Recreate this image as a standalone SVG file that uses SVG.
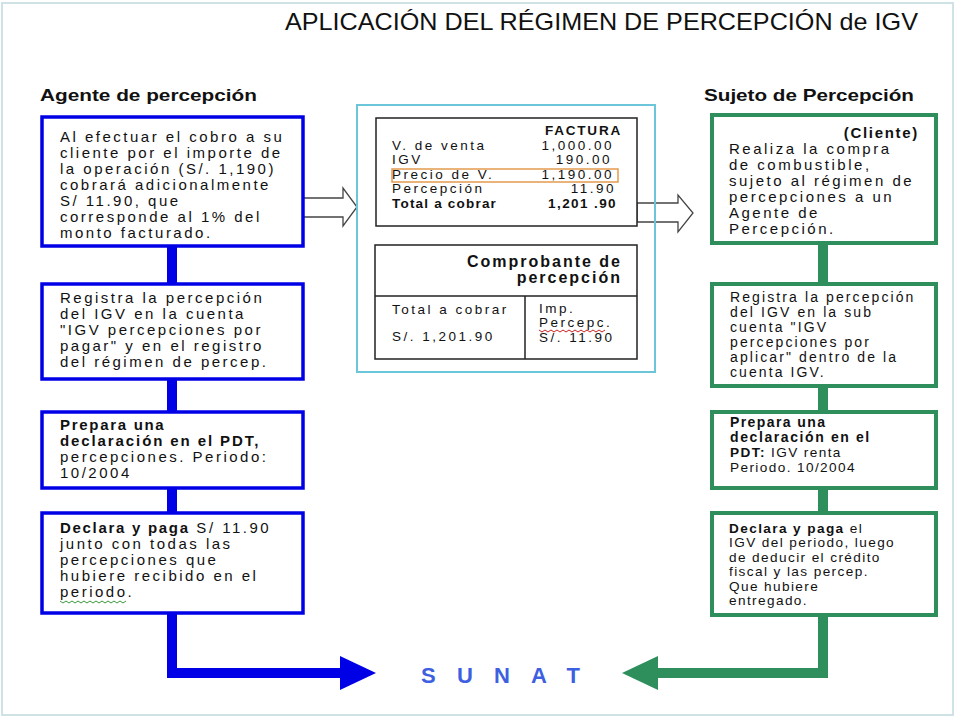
<svg xmlns="http://www.w3.org/2000/svg" width="960" height="720" viewBox="0 0 960 720">
<defs>
<style>
text{font-family:"Liberation Sans",Arial,sans-serif;fill:#111}
.l16{font-size:15px;letter-spacing:2.5px}
.l15{font-size:14px;letter-spacing:2.1px}
.l15n{font-size:13.6px;letter-spacing:1.4px}
.c15{font-size:13.5px;letter-spacing:2.5px}
.b{font-weight:bold}
.hdr{font-size:17px;font-weight:bold}
.bluebox{fill:#fff;stroke:#0000e6;stroke-width:3.5}
.greenbox{fill:#fff;stroke:#2e8f5c;stroke-width:4}
.blk{fill:#fff;stroke:#222;stroke-width:1.5}
.hollow{fill:#fff;stroke:#444;stroke-width:1.3}
.wavy{fill:none;stroke-width:1}
</style>
</defs>
<rect x="0" y="0" width="960" height="720" fill="#fff"/>
<rect x="2" y="3" width="951" height="712" fill="none" stroke="#cfe2e6" stroke-width="2"/>

<text x="285" y="30" font-size="24" textLength="633" lengthAdjust="spacingAndGlyphs">APLICACIÓN DEL RÉGIMEN DE PERCEPCIÓN  de IGV</text>
<text class="hdr" x="40" y="101" textLength="217" lengthAdjust="spacingAndGlyphs">Agente de percepción</text>
<text class="hdr" x="704" y="101" textLength="210" lengthAdjust="spacingAndGlyphs">Sujeto de Percepción</text>

<g id="connectors">
  <path d="M172,246 V673 H342" fill="none" stroke="#0000e6" stroke-width="10"/>
  <polygon points="340,656 376,673 340,690" fill="#0000e6"/>
  <path d="M823,243 V673 H656" fill="none" stroke="#2e8f5c" stroke-width="10"/>
  <polygon points="658,656 622,673 658,690" fill="#2e8f5c"/>
  <polygon class="hollow" points="302,198 343,198 343,188 357,207 343,226 343,217 302,217"/>
  <polygon class="hollow" points="637,203 678,203 678,195 693,213 678,232 678,222 637,222"/>
</g>

<g id="agente1">
  <rect class="bluebox" x="42" y="117" width="261" height="129"/>
  <text class="l16" x="60" y="142">Al efectuar el cobro a su</text>
  <text class="l16" x="60" y="158">cliente por el importe de</text>
  <text class="l16" x="60" y="174">la operación (S/. 1,190)</text>
  <text class="l16" x="60" y="190">cobrará adicionalmente</text>
  <text class="l16" x="60" y="206">S/ 11.90, que</text>
  <text class="l16" x="60" y="222">corresponde al 1% del</text>
  <text class="l16" x="60" y="238">monto facturado.</text>
</g>
<g id="agente2">
  <rect class="bluebox" x="42" y="284" width="261" height="95"/>
  <text class="l16" x="60" y="303">Registra la percepción</text>
  <text class="l16" x="60" y="319">del IGV  en la cuenta</text>
  <text class="l16" x="60" y="335">"IGV percepciones por</text>
  <text class="l16" x="60" y="351">pagar" y en el registro</text>
  <text class="l16" x="60" y="367">del régimen de percep.</text>
</g>
<g id="agente3">
  <rect class="bluebox" x="42" y="412" width="261" height="76"/>
  <text class="l16 b" x="60" y="430" style="letter-spacing:1.7px">Prepara una</text>
  <text class="l16 b" x="60" y="446" style="letter-spacing:1.9px">declaración en el PDT,</text>
  <text class="l16" x="60" y="462">percepciones. Periodo:</text>
  <text class="l16" x="60" y="478">10/2004</text>
</g>
<g id="agente4">
  <rect class="bluebox" x="42" y="513" width="261" height="100"/>
  <text class="l16" x="60" y="533"><tspan class="b" style="letter-spacing:1.7px">Declara y paga</tspan> S/ 11.90</text>
  <text class="l16" x="60" y="549">junto con todas las</text>
  <text class="l16" x="60" y="565">percepciones que</text>
  <text class="l16" x="60" y="581">hubiere recibido en el</text>
  <text class="l16" x="60" y="597">periodo.</text>
  <path class="wavy" stroke="#3a9a3a" d="M60,601 l3,2 l3,-2 l3,2 l3,-2 l3,2 l3,-2 l3,2 l3,-2 l3,2 l3,-2 l3,2 l3,-2 l3,2 l3,-2 l3,2 l3,-2 l3,2 l3,-2 l3,2 l3,-2 l3,2 l3,-2"/>
</g>

<g id="documentos">
  <rect x="357" y="105" width="298" height="267" fill="none" stroke="#6cc6da" stroke-width="2"/>
  <g id="factura">
    <rect class="blk" x="376" y="118" width="261" height="108"/>
    <rect x="392" y="169" width="226" height="13" fill="none" stroke="#e39a4f" stroke-width="1.5"/>
    <text class="c15 b" x="622" y="135" text-anchor="end" style="letter-spacing:1.8px">FACTURA</text>
    <text class="c15" x="392" y="150">V. de venta</text>
    <text class="c15" x="614" y="150" text-anchor="end">1,000.00</text>
    <text class="c15" x="392" y="164">IGV</text>
    <text class="c15" x="612" y="164" text-anchor="end">190.00</text>
    <text class="c15" x="392" y="179">Precio de  V.</text>
    <text class="c15" x="614" y="179" text-anchor="end">1,190.00</text>
    <text class="c15" x="392" y="193">Percepción</text>
    <text class="c15" x="616" y="193" text-anchor="end">11.90</text>
    <text class="c15 b" x="392" y="208" style="letter-spacing:1.2px">Total a cobrar</text>
    <text class="c15 b" x="617" y="208" text-anchor="end" style="letter-spacing:1.4px">1,201 .90</text>
  </g>
  <g id="comprobante">
    <rect class="blk" x="375" y="245" width="262" height="114"/>
    <line x1="375" y1="296" x2="637" y2="296" stroke="#222" stroke-width="1.5"/>
    <line x1="525" y1="296" x2="525" y2="359" stroke="#222" stroke-width="1.5"/>
    <text class="b" x="622" y="267" text-anchor="end" font-size="16" style="letter-spacing:2px">Comprobante de</text>
    <text class="b" x="622" y="283" text-anchor="end" font-size="16" style="letter-spacing:2px">percepción</text>
    <text class="c15" x="392" y="314">Total a cobrar</text>
    <text class="c15" x="392" y="341">S/. 1,201.90</text>
    <text class="c15" x="539" y="313">Imp.</text>
    <text class="c15" x="539" y="327">Percepc.</text>
    <text class="c15" x="539" y="342">S/. 11.90</text>
    <path class="wavy" stroke="#d02020" d="M539,330 l3,2 l3,-2 l3,2 l3,-2 l3,2 l3,-2 l3,2 l3,-2 l3,2 l3,-2 l3,2 l3,-2 l3,2 l3,-2 l3,2 l3,-2 l3,2 l3,-2 l3,2 l3,-2 l3,2 l3,-2"/>
  </g>
</g>

<g id="sujeto1">
  <rect class="greenbox" x="712" y="115" width="224" height="128"/>
  <text class="l16 b" x="919" y="138" text-anchor="end" style="letter-spacing:1.7px">(Cliente)</text>
  <text class="l16" x="729" y="154">Realiza la compra</text>
  <text class="l16" x="729" y="170">de combustible,</text>
  <text class="l16" x="729" y="186">sujeto al régimen de</text>
  <text class="l16" x="729" y="202">percepciones a un</text>
  <text class="l16" x="729" y="218">Agente de</text>
  <text class="l16" x="729" y="234">Percepción.</text>
</g>
<g id="sujeto2">
  <rect class="greenbox" x="712" y="284" width="224" height="102"/>
  <text class="l15" x="730" y="302">Registra la percepción</text>
  <text class="l15" x="730" y="317">del IGV en la sub</text>
  <text class="l15" x="730" y="332">cuenta "IGV</text>
  <text class="l15" x="730" y="347">percepciones por</text>
  <text class="l15" x="730" y="362">aplicar" dentro de la</text>
  <text class="l15" x="730" y="377">cuenta  IGV.</text>
</g>
<g id="sujeto3">
  <rect class="greenbox" x="712" y="412" width="224" height="76"/>
  <text class="l15 b" x="730" y="427" style="letter-spacing:1.4px">Prepara una</text>
  <text class="l15 b" x="730" y="442" style="letter-spacing:1.6px">declaración en el</text>
  <text class="l15n" x="730" y="457"><tspan class="b">PDT:</tspan> IGV renta</text>
  <text class="l15n" x="730" y="472">Periodo. 10/2004</text>
</g>
<g id="sujeto4">
  <rect class="greenbox" x="712" y="513" width="224" height="102"/>
  <text class="l15n" x="729" y="533"><tspan class="b" style="letter-spacing:1.4px">Declara y paga</tspan> el</text>
  <text class="l15n" x="729" y="547">IGV del periodo, luego</text>
  <text class="l15n" x="729" y="562">de deducir el crédito</text>
  <text class="l15n" x="729" y="576">fiscal y las percep.</text>
  <text class="l15n" x="729" y="591">Que hubiere</text>
  <text class="l15n" x="729" y="605">entregado.</text>
</g>

<g id="sunat">
  <text x="421" y="683" font-size="22" font-weight="bold" style="fill:#3d5fe0" textLength="159">SUNAT</text>
</g>
</svg>
